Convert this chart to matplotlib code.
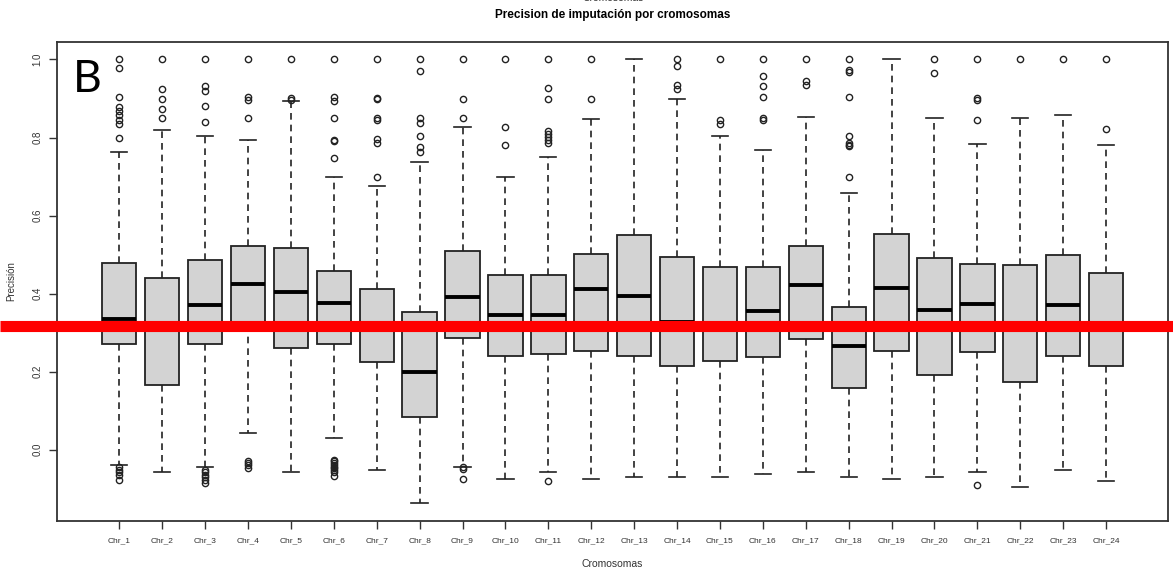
import matplotlib
matplotlib.use('Agg')
import matplotlib.pyplot as plt
import matplotlib.transforms as mtransforms

plt.rcParams['font.family'] = ['Liberation Sans', 'DejaVu Sans']

# Datos (resumen de cada caja)
cromosomas = ['Chr_%d' % i for i in range(1, 25)]
q1 = [0.272, 0.166, 0.272, 0.320, 0.262, 0.272, 0.224, 0.085, 0.286, 0.239, 0.246, 0.252,
      0.240, 0.214, 0.227, 0.238, 0.284, 0.158, 0.252, 0.191, 0.250, 0.174, 0.239, 0.215]
mediana = [0.335, 0.316, 0.372, 0.425, 0.403, 0.376, 0.316, 0.198, 0.391, 0.345, 0.345, 0.413,
           0.393, 0.327, 0.316, 0.355, 0.422, 0.267, 0.414, 0.359, 0.373, 0.316, 0.371, 0.316]
q3 = [0.478, 0.439, 0.486, 0.523, 0.517, 0.458, 0.412, 0.354, 0.509, 0.448, 0.449, 0.502,
      0.550, 0.494, 0.468, 0.468, 0.523, 0.367, 0.553, 0.491, 0.475, 0.473, 0.499, 0.454]
bigote_sup = [0.762, 0.820, 0.805, 0.794, 0.893, 0.698, 0.676, 0.736, 0.828, 0.698, 0.751, 0.848,
              1.000, 0.899, 0.805, 0.769, 0.852, 0.657, 1.000, 0.849, 0.783, 0.849, 0.858, 0.781]
bigote_inf = [-0.039, -0.058, -0.043, 0.042, -0.057, 0.029, -0.053, -0.137, -0.043, -0.074, -0.056, -0.074,
              -0.071, -0.071, -0.070, -0.063, -0.058, -0.071, -0.074, -0.071, -0.058, -0.095, -0.052, -0.079]
atipicos_sup = [
    [1.0, 0.977, 0.903, 0.878, 0.867, 0.857, 0.846, 0.834, 0.799],
    [1.0, 0.925, 0.899, 0.874, 0.849],
    [1.0, 0.931, 0.920, 0.881, 0.840],
    [1.0, 0.903, 0.895, 0.849],
    [1.0, 0.901, 0.897],
    [1.0, 0.903, 0.893, 0.849, 0.794, 0.790, 0.747],
    [1.0, 0.902, 0.899, 0.849, 0.846, 0.795, 0.785, 0.698],
    [1.0, 0.970, 0.849, 0.837, 0.805, 0.775, 0.764],
    [1.0, 0.899, 0.849],
    [1.0, 0.827, 0.780],
    [1.0, 0.926, 0.899, 0.817, 0.809, 0.802, 0.793, 0.785],
    [1.0, 0.899],
    [],
    [1.0, 0.984, 0.935, 0.925],
    [1.0, 0.846, 0.834],
    [1.0, 0.958, 0.931, 0.903, 0.850, 0.846],
    [1.0, 0.945, 0.935],
    [1.0, 0.973, 0.969, 0.903, 0.805, 0.785, 0.780, 0.777, 0.698],
    [],
    [1.0, 0.964],
    [1.0, 0.901, 0.897, 0.844],
    [1.0],
    [1.0],
    [1.0, 0.823],
]
atipicos_inf = [
    [-0.045, -0.051, -0.058, -0.064, -0.077],
    [],
    [-0.051, -0.058, -0.064, -0.070, -0.077, -0.085],
    [-0.030, -0.035, -0.040, -0.046],
    [],
    [-0.026, -0.030, -0.034, -0.038, -0.043, -0.047, -0.051, -0.058, -0.066],
    [],
    [],
    [-0.045, -0.050, -0.074],
    [],
    [-0.079],
    [], [], [], [], [], [], [], [], [],
    [-0.089],
    [], [], [],
]
umbral = 0.316

# Construir las estadisticas para bxp
stats = []
for i in range(len(cromosomas)):
    stats.append({
        'label': cromosomas[i],
        'q1': q1[i], 'med': mediana[i], 'q3': q3[i],
        'whislo': bigote_inf[i], 'whishi': bigote_sup[i],
        'fliers': atipicos_sup[i] + atipicos_inf[i],
    })

fig = plt.figure(figsize=(11.73, 5.75), dpi=100)
ax = fig.add_axes([0.0483, 0.0939, 0.9477, 0.8336])

posiciones = list(range(1, len(cromosomas) + 1))
ax.bxp(stats, positions=posiciones, widths=0.8, patch_artist=True, capwidths=0.38,
       boxprops=dict(facecolor='#d3d3d3', edgecolor='#222222', linewidth=1.3),
       medianprops=dict(color='black', linewidth=2.8),
       whiskerprops=dict(color='#222222', linewidth=1.2, linestyle=(0, (4, 3))),
       capprops=dict(color='#222222', linewidth=1.2),
       flierprops=dict(marker='o', markersize=4.5, markerfacecolor='none',
                       markeredgecolor='#222222', markeredgewidth=1.0))

ax.set_xlim(-0.46, 25.45)
ax.set_ylim(-0.1825, 1.0455)
ax.set_yticks([0.0, 0.2, 0.4, 0.6, 0.8, 1.0])
ax.set_yticklabels(['0.0', '0.2', '0.4', '0.6', '0.8', '1.0'], rotation=90, va='center')
ax.set_xticks(posiciones)
ax.set_xticklabels(cromosomas)
ax.tick_params(axis='x', labelsize=6, length=6, width=1.0, color='#333333', labelcolor='#333333', pad=6)
ax.tick_params(axis='y', labelsize=7, length=6, width=1.0, color='#333333', labelcolor='#333333', pad=4)
for s in ax.spines.values():
    s.set_color('#333333')
    s.set_linewidth(1.3)

ax.set_xlabel('Cromosomas', fontsize=7.5, color='#333333', labelpad=10)
ax.set_ylabel('Precisión', fontsize=7, color='#333333', labelpad=12)

# Linea roja de referencia que cruza toda la figura
trans = mtransforms.blended_transform_factory(fig.transFigure, ax.transData)
ax.plot([0, 1], [umbral, umbral], color='#ff0000', linewidth=8, transform=trans,
        clip_on=False, zorder=5, solid_capstyle='butt')

# Titulo y restos del panel de arriba
fig.text(0.5225, 1 - 15 / 575, 'Precision de imputación por cromosomas', ha='center', va='center',
         fontsize=8.5, fontweight='bold')
fig.text(0.5225, 1 + 2 / 575, 'Cromosomas', ha='center', va='center', fontsize=7.5, color='#333333')

ax.text(73 / 1173, 1 - 92 / 575, 'B', transform=fig.transFigure, fontsize=32,
        family=['Lato', 'DejaVu Sans'], ha='left', va='baseline')

plt.savefig('out.png', dpi=100)
plt.close()
